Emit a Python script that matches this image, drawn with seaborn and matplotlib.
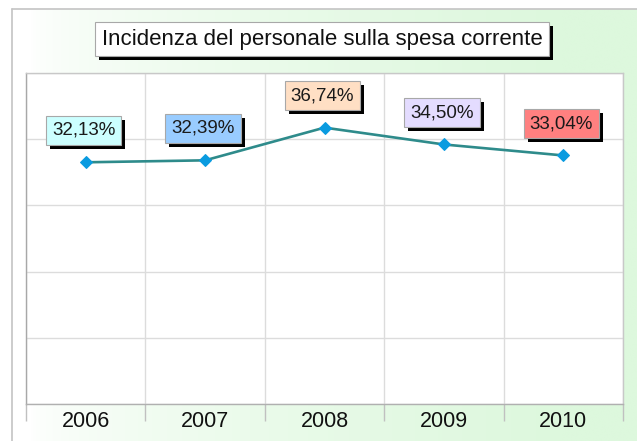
import numpy as np
import pandas as pd
import matplotlib
matplotlib.use("Agg")
import matplotlib.pyplot as plt
import seaborn as sns
from matplotlib import patheffects as pe
from matplotlib.colors import to_rgb

years = [2006, 2007, 2008, 2009, 2010]
values = [32.13, 32.39, 36.74, 34.50, 33.04]
labels = ["32,13%", "32,39%", "36,74%", "34,50%", "33,04%"]
label_colors = ["#ccffff", "#99ccff", "#ffdfc4", "#e4dcff", "#ff8080"]
title = "Incidenza del personale sulla spesa corrente"

sns.set_theme(style="white")
plt.rcParams['font.family'] = ['Liberation Sans', 'DejaVu Sans']

W, H = 637, 441
fig = plt.figure(figsize=(W / 100, H / 100), dpi=100)
fig.patch.set_facecolor("white")

# background panel with gradient
bg = fig.add_axes([0, 0, 1, 1], zorder=-10)
xg = np.linspace(0, 1, W)
yg = np.linspace(0, 1, H)
X, Y = np.meshgrid(xg, yg)
t = np.clip((X - 0.03) / 0.85, 0, 1) ** 0.6
c0 = np.array(to_rgb("#ffffff"))
c1 = np.array(to_rgb("#ddf8dd"))
img = c0 + (c1 - c0) * t[..., None]
bg.imshow(img, extent=[12 / W, 1, 0, 1 - 9 / H], aspect='auto', origin='upper')
bg.set_xlim(0, 1)
bg.set_ylim(0, 1)
bg.plot([12 / W, 12 / W], [0, 1 - 9 / H], color="#c4c4c4", lw=1.2)
bg.plot([12 / W, 1], [1 - 9 / H, 1 - 9 / H], color="#c4c4c4", lw=1.2)
bg.axis('off')

ax = fig.add_axes([26 / W, 1 - 404 / H, (623 - 26) / W, (404 - 73) / H])
ax.set_facecolor('white')
df = pd.DataFrame({"year": years, "value": values})
sns.lineplot(data=df, x="year", y="value", ax=ax, color="#2e8b8b", lw=1.9,
             marker="D", markersize=6, markerfacecolor="#0a9be0",
             markeredgecolor="#0a9be0", sort=False)
ax.set_xlim(years[0] - 0.5, years[-1] + 0.5)
ax.set_ylim(0, 44)
ax.set_yticks(np.linspace(0, 44, 6))
ax.set_yticklabels([])
ax.tick_params(axis='y', length=0)
ax.set_xticks(years)
ax.set_xticklabels([str(y) for y in years], fontsize=15.5, color="#111111")
ax.set_xticks(np.arange(years[0] - 0.5, years[-1] + 1, 1), minor=True)
ax.tick_params(axis='x', which='major', length=0, pad=5)
ax.tick_params(axis='x', which='minor', length=12, color='#c0c0c0', width=1, bottom=True)
ax.set_axisbelow(True)
ax.grid(True, axis='y', which='major', color='#dcdcdc', lw=1)
ax.grid(True, axis='x', which='minor', color='#dcdcdc', lw=1)
ax.grid(False, axis='x', which='major')
ax.set_xlabel("")
ax.set_ylabel("")
for s in ax.spines.values():
    s.set_color('#c8c8c8')
    s.set_linewidth(1)
ax.spines['left'].set_color('#a8a8a8')
ax.spines['bottom'].set_color('#b0b0b0')

shadow = [pe.SimplePatchShadow(offset=(3, -3), shadow_rgbFace='black', alpha=1), pe.Normal()]
for yr, v, lab, col in zip(years, values, labels, label_colors):
    a = ax.annotate(lab, xy=(yr, v), xytext=(-1.5, 23), textcoords='offset points',
                    ha='center', va='center', fontsize=13.5, color='#1a1a1a',
                    bbox=dict(boxstyle='square,pad=0.32', fc=col, ec='#a8a8a8', lw=0.8),
                    zorder=5)
    a.get_bbox_patch().set_path_effects(shadow)

tt = fig.text(322 / W, 1 - 39 / H, title, ha='center', va='center', fontsize=16,
              color='#111111',
              bbox=dict(boxstyle='square,pad=0.3', fc='white', ec='#a8a8a8', lw=0.8))
tt.get_bbox_patch().set_path_effects(shadow)

fig.savefig("out.png", dpi=100)
